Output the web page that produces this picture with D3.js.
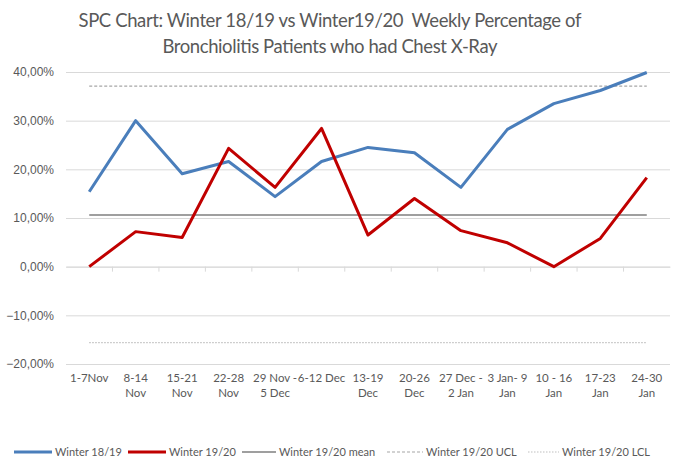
<!DOCTYPE html>
<html>
<head>
<meta charset="utf-8">
<script src="https://cdn.jsdelivr.net/npm/d3@7"></script>
<style>
  body { margin: 0; background: #fff; }
  svg { font-family: Lato, "Open Sans", sans-serif; }
  .tick text { fill: #595959; font-size: 12px; }
</style>
</head>
<body>
<svg width="673" height="460"></svg>
<script>
const weeks = [
  ['1-7Nov'], ['8-14', 'Nov'], ['15-21', 'Nov'], ['22-28', 'Nov'], ['29 Nov -', '5 Dec'],
  ['6-12 Dec'], ['13-19', 'Dec'], ['20-26', 'Dec'], ['27 Dec -', '2 Jan'], ['3 Jan- 9', 'Jan'],
  ['10 - 16', 'Jan'], ['17-23', 'Jan'], ['24-30', 'Jan']
];
const winter1819 = [0.154, 0.300, 0.191, 0.216, 0.144, 0.216, 0.245, 0.234, 0.163, 0.282, 0.335, 0.362, 0.399];
const winter1920 = [0.000, 0.072, 0.060, 0.243, 0.163, 0.284, 0.065, 0.140, 0.074, 0.049, 0.000, 0.058, 0.183];
const mean1920 = 0.106;
const ucl1920 = 0.371;
const lcl1920 = -0.156;
const yTicks = [-0.2, -0.1, 0, 0.1, 0.2, 0.3, 0.4];

const svg = d3.select('svg');
const margin = { top: 72, left: 66, right: 3, bottom: 96 };
const width = +svg.attr('width');
const height = +svg.attr('height');
const innerWidth = width - margin.left - margin.right;
const innerHeight = height - margin.top - margin.bottom;

const idx = weeks.map((d, i) => i);
const x = d3.scaleBand().domain(idx).range([0, innerWidth]);
const xc = i => x(i) + x.bandwidth() / 2;
const y = d3.scaleLinear().domain([-0.2, 0.4]).range([innerHeight, 0]);

// title (two lines, stretched to the reference widths)
const title = svg.append('text')
  .attr('text-anchor', 'middle')
  .attr('fill', '#595959')
  .style('font-size', '18.5px')
  .style('white-space', 'pre');
title.append('tspan').attr('x', 330).attr('y', 27)
  .attr('textLength', 503).attr('lengthAdjust', 'spacing')
  .text('SPC Chart: Winter 18/19 vs Winter19/20  Weekly Percentage of');
title.append('tspan').attr('x', 330).attr('y', 53)
  .attr('textLength', 335).attr('lengthAdjust', 'spacing')
  .text('Bronchiolitis Patients who had Chest X-Ray');

const g = svg.append('g').attr('transform', `translate(${margin.left},${margin.top})`);

// y axis + grid
const fmt = v => d3.format('.2f')(v * 100).replace('.', ',') + '%';
const yAxis = g.append('g')
  .call(d3.axisLeft(y).tickValues(yTicks).tickFormat(fmt).tickSize(-innerWidth).tickPadding(12));
yAxis.select('.domain').remove();
yAxis.selectAll('.tick line').attr('stroke', '#d9d9d9');

// category axis at zero
const xAxis = g.append('g')
  .attr('transform', `translate(0,${y(0)})`)
  .call(d3.axisBottom(x).tickSize(0).tickFormat(''));
xAxis.select('.domain').attr('stroke', '#d9d9d9');
xAxis.selectAll('.sep')
  .data(d3.range(1, weeks.length))
  .enter().append('line')
  .attr('x1', i => x(i)).attr('x2', i => x(i))
  .attr('y1', 0).attr('y2', 5)
  .attr('stroke', '#d9d9d9');

const labels = g.append('g').selectAll('text')
  .data(weeks)
  .enter().append('text')
  .attr('text-anchor', 'middle')
  .attr('fill', '#595959')
  .style('font-size', '11.5px');
labels.each(function (lines, i) {
  lines.forEach((l, k) => {
    d3.select(this).append('tspan')
      .attr('x', xc(i))
      .attr('y', innerHeight + 18 + k * 15)
      .text(l);
  });
});

// control lines
const hline = (v, dash, color, w) => g.append('line')
  .attr('x1', xc(0)).attr('x2', xc(weeks.length - 1))
  .attr('y1', y(v)).attr('y2', y(v))
  .attr('stroke', color).attr('stroke-width', w)
  .attr('stroke-dasharray', dash);
hline(mean1920, null, '#7f7f7f', 1.5);
hline(ucl1920, '3,2', '#a6a6a6', 1.2);
hline(lcl1920, '1.5,1.5', '#bfbfbf', 1.2);

const line = d3.line().x((d, i) => xc(i)).y(d => y(d));
g.append('path').datum(winter1819)
  .attr('d', line).attr('fill', 'none')
  .attr('stroke', '#4a7ebb').attr('stroke-width', 3).attr('stroke-linejoin', 'round');
g.append('path').datum(winter1920)
  .attr('d', line).attr('fill', 'none')
  .attr('stroke', '#c00000').attr('stroke-width', 3).attr('stroke-linejoin', 'round');

// legend
const legendItems = [
  { name: 'Winter 18/19', x: 14, len: 38, color: '#4a7ebb', w: 3, dash: null },
  { name: 'Winter 19/20', x: 128, len: 38, color: '#c00000', w: 3, dash: null },
  { name: 'Winter 19/20 mean', x: 242, len: 34, color: '#7f7f7f', w: 1.5, dash: null },
  { name: 'Winter 19/20 UCL', x: 387, len: 36, color: '#a6a6a6', w: 1.2, dash: '3,2' },
  { name: 'Winter 19/20 LCL', x: 528, len: 31, color: '#bfbfbf', w: 1.2, dash: '1.5,1.5' }
];
const leg = svg.append('g').selectAll('g')
  .data(legendItems)
  .enter().append('g')
  .attr('transform', d => `translate(${d.x},452)`);
leg.append('line')
  .attr('x1', 0).attr('x2', d => d.len)
  .attr('stroke', d => d.color).attr('stroke-width', d => d.w)
  .attr('stroke-dasharray', d => d.dash);
leg.append('text')
  .attr('x', d => d.len + 3).attr('y', 4)
  .attr('fill', '#595959')
  .style('font-size', '11px')
  .text(d => d.name);
</script>
</body>
</html>
